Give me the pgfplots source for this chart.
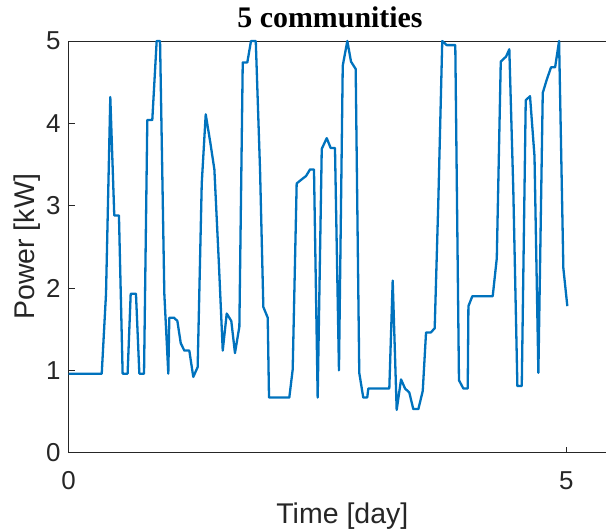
\documentclass[border=0pt]{standalone}
\usepackage{pgfplots}
\pgfplotsset{compat=1.18}
\usepackage{fontspec}
\setmainfont{Liberation Sans}
\newfontfamily\titlefont{Liberation Serif}
\definecolor{matblue}{RGB}{0,114,189}
\definecolor{axgray}{RGB}{38,38,38}

\begin{document}
\begin{tikzpicture}
\begin{axis}[
  at={(0,0)}, anchor=south west,
  scale only axis, width=547.3bp, height=411.7bp,
  xmin=0, xmax=5.5, ymin=0, ymax=5,
  xtick={0,5}, ytick={0,1,2,3,4,5},
  xtick pos=bottom, ytick pos=left,
  tick align=inside, major tick length=6bp,
  axis line style={axgray, line width=0.8bp},
  every tick/.style={axgray, line width=0.8bp},
  clip=false,
  /pgf/number format/assume math mode=true,
  tick label style={font=\fontsize{26}{30}\selectfont, text=axgray, inner sep=0pt},
  xticklabel style={yshift=-19bp},
  yticklabel style={xshift=-8bp},
  title={5 communities},
  title style={font=\titlefont\bfseries\fontsize{30}{34}\selectfont, text=black,
    at={(rel axis cs:0.4775,1)}, anchor=base, yshift=8bp, inner sep=0pt},
  xlabel={Time [day]},
  xlabel style={font=\fontsize{28.6}{32}\selectfont, text=axgray,
    at={([yshift=-50bp]rel axis cs:0.5,0)}, anchor=north, inner sep=0pt},
  ylabel={Power [kW]},
  ylabel style={font=\fontsize{28.6}{32}\selectfont, text=axgray,
    at={([xshift=-27.7bp]rel axis cs:0,0.5)}, rotate=0, anchor=south, inner sep=0pt},
]
\addplot[matblue, line width=2.3bp, line join=round, mark=none] coordinates {
(0.000,0.96) (0.332,0.96) (0.375,1.93) (0.418,4.32) (0.458,2.88) (0.505,2.88)
(0.542,0.96) (0.592,0.96) (0.623,1.93) (0.676,1.93) (0.710,0.96) (0.757,0.96)
(0.790,4.04) (0.840,4.04) (0.884,5.00) (0.918,5.00) (0.961,1.93) (1.001,0.96)
(1.011,1.64) (1.058,1.64) (1.092,1.60) (1.126,1.33) (1.162,1.24) (1.212,1.24)
(1.252,0.92) (1.296,1.04) (1.337,3.27) (1.377,4.11) (1.424,3.76) (1.464,3.44)
(1.508,2.33) (1.548,1.24) (1.588,1.69) (1.634,1.60) (1.671,1.21) (1.715,1.53)
(1.749,4.74) (1.795,4.74) (1.832,5.00) (1.880,5.00) (1.923,3.43) (1.956,1.77)
(2.000,1.64) (2.013,0.67) (2.217,0.67) (2.251,1.01) (2.291,3.27) (2.342,3.32)
(2.385,3.36) (2.425,3.44) (2.465,3.44) (2.502,0.67) (2.543,3.69) (2.593,3.82)
(2.633,3.70) (2.676,3.70) (2.716,1.00) (2.754,4.70) (2.800,5.00) (2.837,4.75)
(2.884,4.66) (2.920,0.97) (2.960,0.67) (3.000,0.67) (3.011,0.78) (3.222,0.78)
(3.256,2.09) (3.296,0.52) (3.340,0.89) (3.380,0.78) (3.423,0.73) (3.463,0.53)
(3.514,0.53) (3.558,0.75) (3.591,1.46) (3.638,1.46) (3.678,1.51) (3.714,3.03)
(3.754,5.00) (3.798,4.95) (3.885,4.95) (3.922,0.88) (3.966,0.78) (4.010,0.78)
(4.017,1.78) (4.056,1.90) (4.261,1.90) (4.302,2.36) (4.342,4.75) (4.395,4.81)
(4.428,4.90) (4.468,3.19) (4.509,0.81) (4.553,0.81) (4.593,4.28) (4.636,4.33)
(4.681,3.60) (4.720,0.97) (4.764,4.37) (4.804,4.53) (4.847,4.68) (4.888,4.68)
(4.928,5.00) (4.971,2.24) (5.011,1.78)
};
\end{axis}
\pgfresetboundingbox
\useasboundingbox (-68.7bp,-76.3bp) rectangle (537.3bp,452.7bp);
\end{tikzpicture}
\end{document}
